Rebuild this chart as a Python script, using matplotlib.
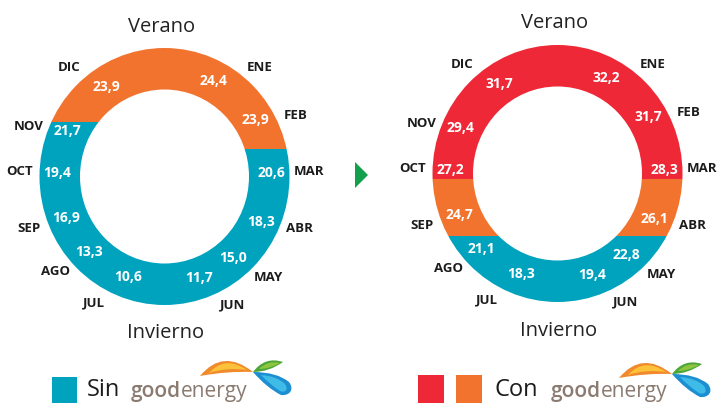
import matplotlib
matplotlib.use("Agg")
import matplotlib.pyplot as plt
import numpy as np
from matplotlib.patches import Ellipse, Rectangle, PathPatch
from matplotlib.path import Path

plt.rcParams['font.family'] = ['Open Sans', 'DejaVu Sans']

# data
meses = ["ENE", "FEB", "MAR", "ABR", "MAY", "JUN", "JUL", "AGO", "SEP", "OCT", "NOV", "DIC"]
temp_sin = [24.4, 23.9, 20.6, 18.3, 15.0, 11.7, 10.6, 13.3, 16.9, 19.4, 21.7, 23.9]
temp_con = [32.2, 31.7, 28.3, 26.1, 22.8, 19.4, 18.3, 21.1, 24.7, 27.2, 29.4, 31.7]
umbrales = [23, 27]
colores = ["#00a3be", "#f2732e", "#ee2836"]

# layout (pixels)
lado_der = ["ENE", "FEB", "MAR", "ABR", "MAY", "JUN"]      # top -> bottom
lado_izq = ["DIC", "NOV", "OCT", "SEP", "AGO", "JUL"]
ang_mes = [49, 25, 2, -21, -44, -62, -119, -139, -159, 178, 160, 131]
ang_val = [63, 32, 2, -25, -50, -71, -110, -135, -157, 178, 155, 123]
R_OUT = (125, 128.5)
R_IN = (84.5, 87)


def color_de(v):
    return colores[int(np.searchsorted(umbrales, v))]


def dibujar_anillo(ax, cx, cy, valores, cortes):
    col = dict(zip(meses, [color_de(v) for v in valores]))
    for lado, corte, x0, x1 in [(lado_der, cortes[0], cx, cx + 140), (lado_izq, cortes[1], cx - 140, cx)]:
        tramos = []
        for m in lado:
            if not tramos or tramos[-1] != col[m]:
                tramos.append(col[m])
        lim = [cy - 140] + [cy + c for c in corte] + [cy + 140]
        for k, c in enumerate(tramos):
            clip = Rectangle((x0, lim[k]), x1 - x0, lim[k + 1] - lim[k], transform=ax.transData)
            e = Ellipse((cx, cy), 2 * R_OUT[0], 2 * R_OUT[1], fc=c, ec="none")
            ax.add_patch(e)
            e.set_clip_path(clip)
    ax.add_patch(Ellipse((cx, cy), 2 * R_IN[0], 2 * R_IN[1], fc="white", ec="none"))

    for m, v, a1, a2 in zip(meses, valores, ang_mes, ang_val):
        r1 = np.radians(a1)
        ax.text(cx + 145 * np.cos(r1), cy - 145 * np.sin(r1), m, ha="center", va="center",
                fontsize=9.5, fontweight="bold", color="#1c1c1c")
        r2 = np.radians(a2)
        ax.text(cx + 107 * np.cos(r2), cy - 107 * np.sin(r2), f"{v:.1f}".replace(".", ","),
                ha="center", va="center", fontsize=10, fontweight="bold", color="white")
    ax.text(cx - 3, cy - 150, "Verano", ha="center", va="center", fontsize=14.5, color="#222222")
    ax.text(cx + 1, cy + 157, "Invierno", ha="center", va="center", fontsize=14.5, color="#222222")


def logo(ax, x, y, px, py):
    M, C3, C4, Z = Path.MOVETO, Path.CURVE3, Path.CURVE4, Path.CLOSEPOLY

    def forma(verts, codes, c):
        v = [(px + a, py + b) for a, b in verts]
        ax.add_patch(PathPatch(Path(v, codes), fc=c, ec="none"))

    forma([(-53, 4), (-30, -24), (0, 0), (-26, -1), (-53, 4), (-53, 4)], [M, C3, C3, C3, C3, Z], "#f18a2c")
    forma([(-44, 1), (-28, -17), (-6, -2), (-26, -5), (-44, 1), (-44, 1)], [M, C3, C3, C3, C3, Z], "#fcc23a")
    forma([(0, 0), (12, -16), (30, -10), (16, 0), (0, 0), (0, 0)], [M, C3, C3, C3, C3, Z], "#4ea639")
    forma([(6, -3), (15, -12), (27, -9), (16, -3), (6, -3), (6, -3)], [M, C3, C3, C3, C3, Z], "#8cc63f")
    forma([(0, 0), (24, 0), (36, 10), (42, 18), (36, 24), (28, 23), (14, 16), (0, 0), (0, 0)],
          [M, C3, C3, C4, C4, C4, C3, C3, Z], "#1b8fd2")
    forma([(8, 3), (24, 4), (32, 12), (36, 18), (32, 21), (27, 19), (16, 12), (8, 3), (8, 3)],
          [M, C3, C3, C4, C4, C4, C3, C3, Z], "#3fbbe8")

    t = ax.text(x, y, "good", ha="left", va="bottom", fontsize=15, color="#8a7a70", fontweight="semibold")
    ax.annotate("energy", xy=(1, 0), xycoords=t, ha="left", va="bottom", fontsize=15,
                color="#8a7a70", fontweight="normal")


fig = plt.figure(figsize=(7.2, 4.03), dpi=100)
ax = fig.add_axes([0, 0, 1, 1])
ax.set_xlim(0, 720)
ax.set_ylim(403, 0)
ax.axis("off")

dibujar_anillo(ax, 164.5, 176.5, temp_sin, ([-27.5], [-54.5]))
dibujar_anillo(ax, 557.5, 173.5, temp_con, ([5.5, 62], [5.5, 62]))

# arrow between charts
ax.fill([355, 368, 355], [162, 175, 188], color="#12a04c", lw=0)

# legend
ax.add_patch(Rectangle((52, 377), 25, 26, fc=colores[0], ec="none"))
ax.text(87, 402, "Sin", ha="left", va="bottom", fontsize=17, color="#1c1c1c")
logo(ax, 131, 402, 253, 372)

ax.add_patch(Rectangle((418, 375), 26, 28, fc=colores[2], ec="none"))
ax.add_patch(Rectangle((456, 375), 26, 28, fc=colores[1], ec="none"))
ax.text(495, 402, "Con", ha="left", va="bottom", fontsize=17, color="#1c1c1c")
logo(ax, 551, 402, 672, 374)

fig.savefig("out.png", dpi=100)
